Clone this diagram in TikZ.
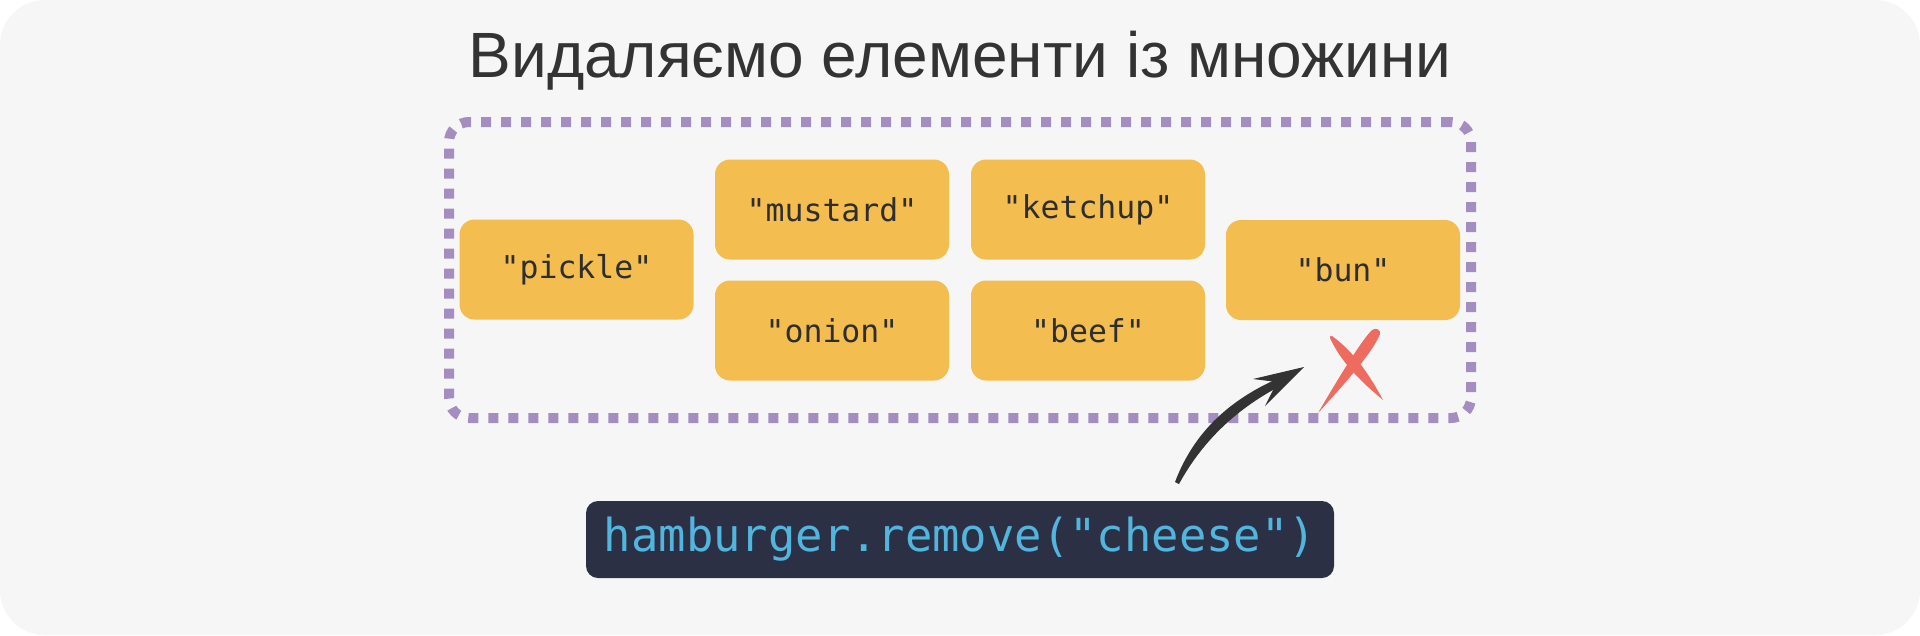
\documentclass[tikz,border=0pt]{standalone}
\usepackage{fontspec}
\setmainfont{Liberation Sans}
\setmonofont{DejaVu Sans Mono}
\definecolor{bgc}{HTML}{F6F6F6}
\definecolor{titlec}{HTML}{333333}
\definecolor{setc}{HTML}{A48DC0}
\definecolor{boxc}{HTML}{F3BD4F}
\definecolor{boxtext}{HTML}{2E2E2E}
\definecolor{codebg}{HTML}{2C3045}
\definecolor{codetext}{HTML}{52B5DE}
\definecolor{crossc}{HTML}{EE6C5F}
\definecolor{arrowc}{HTML}{333333}
\begin{document}
\begin{tikzpicture}[x=1pt,y=-1pt,
  item/.style={fill=boxc, rounded corners=15pt, minimum width=234pt, minimum height=100pt, inner sep=0pt,
    text=boxtext, font=\fontsize{31.5}{36}\selectfont\ttfamily},
  setbox/.style={draw=setc, line width=10pt, dash pattern=on 10pt off 10pt, rounded corners=20pt,
    minimum width=1022pt, minimum height=296pt, inner sep=0pt},
  codebox/.style={fill=codebg, rounded corners=12pt, minimum width=748pt, minimum height=77pt, inner sep=0pt,
    text=codetext, font=\fontsize{45.5}{54}\selectfont\ttfamily},
  titletext/.style={text=titlec, font=\fontsize{64}{75}\selectfont, inner sep=0pt}]
\useasboundingbox (0,0) rectangle (1920,635);
\fill[white] (0,0) rectangle (1920,635);
\fill[bgc, rounded corners=45pt] (0,0) rectangle (1920,635);

\node[titletext, anchor=base] (title) at (960,77) {Видаляємо елементи із множини};

\node[setbox] (set) at (960,270) {};

\node[item] (pickle) at (576.5,269.5) {"pickle"};
\node[item] (mustard) at (832,209.5) {"mustard"};
\node[item] (onion) at (832,330.5) {"onion"};
\node[item] (ketchup) at (1088,209.5) {"ketchup"};
\node[item] (beef) at (1088,330.5) {"beef"};
\node[item] (bun) at (1343,270) {"bun"};

\node[codebox] (code) at (960,539.5) {hamburger.remove("cheese")};

% hand-drawn arrow
\coordinate (arrS) at (1177,483);
\coordinate (arrE) at (1304,367);
\fill[arrowc] (1175,482) .. controls (1194,432) and (1230,398) .. (1286,375)
  -- (1286,383) .. controls (1236,408) and (1202,442) .. (1179,484) -- cycle;
\fill[arrowc] (arrE) -- (1253,379) -- (1277,382) -- (1265,406) -- cycle;

% cross
\fill[crossc] (1380,334) .. controls (1374,350) and (1350,378) .. (1318,413)
  .. controls (1342,372) and (1362,340) .. (1372,330)
  .. controls (1376,327) and (1381,330) .. (1380,334) -- cycle;
\fill[crossc] (1332,336) .. controls (1352,350.5) and (1367.3,370.7) .. (1383,400)
  .. controls (1357.9,379.1) and (1340.6,360.9) .. (1330,338)
  .. controls (1329.5,336) and (1331,335) .. (1332,336) -- cycle;
\end{tikzpicture}
\end{document}
